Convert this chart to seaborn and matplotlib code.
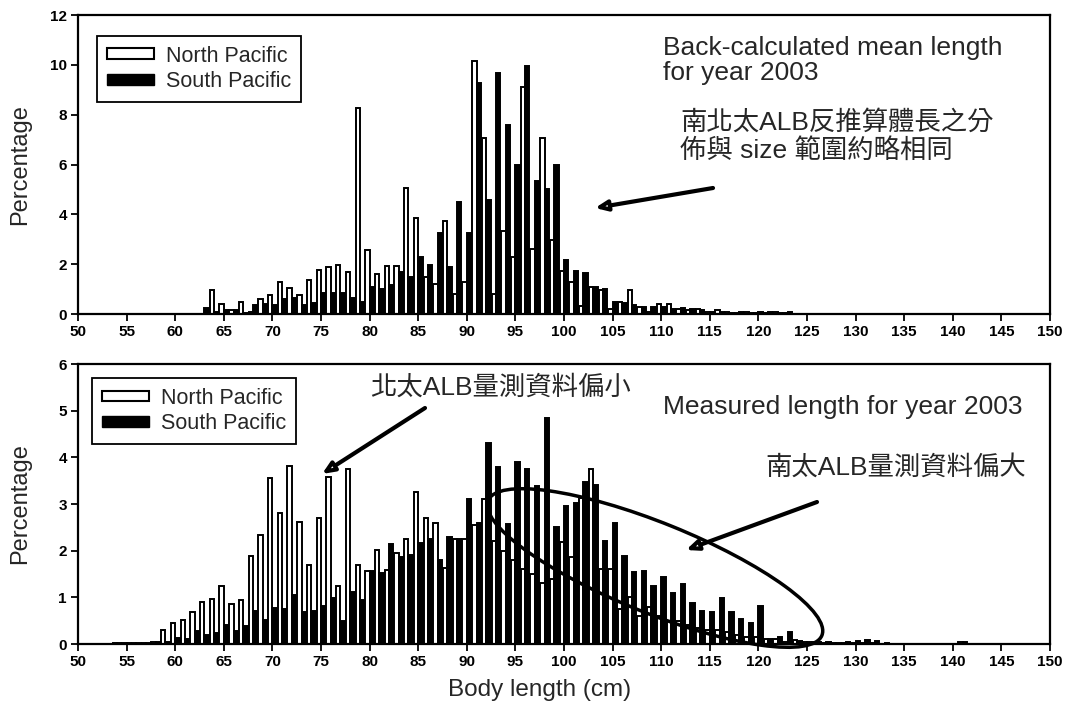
import numpy as np
import pandas as pd
import matplotlib
matplotlib.use('Agg')
import matplotlib.pyplot as plt
import seaborn as sns
from matplotlib.patches import Patch, Ellipse

# ---- data: percentage by body length (cm) ----
top_len = list(range(62, 125))
top_np = [0, 0, 0.95, 0.4, 0.15, 0.5, 0.1, 0.6, 0.75, 1.3,
          1.05, 0.75, 1.35, 1.75, 1.9, 1.95, 1.7, 8.25, 2.55, 1.6,
          1.93, 1.93, 5.07, 3.84, 1.47, 1.2, 3.75, 0.8, 1.27, 10.16,
          7.07, 0.8, 3.32, 2.27, 9.1, 2.6, 7.07, 2.96, 1.73, 1.27,
          0.33, 1.07, 0.96, 0.2, 0.5, 0.95, 0.3, 0.1, 0.4, 0.4,
          0.2, 0.15, 0.2, 0.1, 0.15, 0.1, 0.05, 0.1, 0.05, 0.05,
          0.1, 0.05, 0]
top_sp = [0, 0.25, 0.1, 0.15, 0.15, 0.05, 0.35, 0.4, 0.35, 0.6,
          0.65, 0.35, 0.45, 0.85, 0.85, 0.85, 0.65, 0.5, 1.1, 1.0,
          1.16, 1.67, 1.49, 2.3, 1.96, 3.27, 1.87, 4.49, 3.27, 9.27,
          4.59, 9.67, 7.6, 5.97, 9.97, 5.33, 5.03, 5.97, 2.17, 1.71,
          1.64, 1.07, 1.0, 0.5, 0.45, 0.35, 0.3, 0.3, 0.3, 0.2,
          0.25, 0.2, 0.15, 0.1, 0.1, 0.05, 0.1, 0.05, 0.1, 0.1,
          0.05, 0.1, 0]

bot_len = list(range(54, 142))
bot_np = [0.03, 0.02, 0.03, 0.02, 0.05, 0.31, 0.44, 0.51, 0.68, 0.9,
          0.96, 1.25, 0.86, 0.94, 1.88, 2.34, 3.56, 2.81, 3.81, 2.61,
          1.7, 2.7, 3.58, 1.25, 3.76, 1.7, 1.57, 2.01, 1.59, 1.94,
          2.24, 3.26, 2.71, 2.59, 1.62, 2.26, 2.26, 2.55, 3.1, 2.2,
          2.0, 1.8, 1.6, 1.5, 1.3, 1.4, 2.19, 1.87, 3.12, 3.74,
          1.6, 1.6, 0.75, 1.0, 0.6, 0.8, 0.6, 0.5, 0.5, 0.4,
          0.35, 0.3, 0.3, 0.25, 0.2, 0.15, 0.15, 0.1, 0.1, 0.05,
          0.08, 0.05, 0.05, 0.03, 0.03, 0.03, 0.02, 0.03, 0.02, 0,
          0, 0, 0, 0, 0, 0, 0, 0.05]
bot_sp = [0.03, 0.03, 0.03, 0.03, 0.05, 0.05, 0.13, 0.1, 0.27, 0.19,
          0.24, 0.41, 0.27, 0.38, 0.7, 0.52, 0.77, 0.75, 1.04, 0.68,
          0.7, 0.81, 0.98, 0.5, 1.12, 0.94, 1.57, 1.53, 2.14, 1.87,
          1.91, 2.16, 2.26, 1.8, 2.3, 2.26, 3.1, 2.6, 4.3, 3.8,
          2.57, 3.91, 3.74, 3.39, 4.84, 2.51, 2.96, 3.03, 3.48, 3.41,
          2.2, 2.6, 1.89, 1.54, 1.57, 1.25, 1.43, 1.09, 1.29, 0.87,
          0.71, 0.68, 0.98, 0.68, 0.54, 0.45, 0.82, 0.1, 0.14, 0.25,
          0.06, 0.05, 0.05, 0.04, 0.03, 0.04, 0.06, 0.08, 0.06, 0.03,
          0, 0, 0, 0, 0, 0, 0, 0.05]

regions = ['North Pacific', 'South Pacific']
colors = {'North Pacific': 'white', 'South Pacific': 'black'}

W, H = 1078, 719


def to_df(lengths, north, south):
    return pd.DataFrame({
        'length': lengths + lengths,
        'pct': north + south,
        'region': [regions[0]] * len(lengths) + [regions[1]] * len(lengths),
    })


def px(x, y):
    # image pixel (from top-left) -> figure fraction
    return x / W, 1 - y / H


sns.set_style('white')
plt.rcParams['font.family'] = ['Liberation Sans', 'Noto Sans CJK TC', 'DejaVu Sans']

fig = plt.figure(figsize=(W / 100, H / 100), dpi=100)
ax1 = fig.add_axes([78 / W, 1 - 314 / H, 972 / W, 299 / H])
ax2 = fig.add_axes([78 / W, 1 - 644 / H, 972 / W, 280 / H])

panels = [
    (ax1, to_df(top_len, top_np, top_sp), 12, 2, (0.0195, 0.93)),
    (ax2, to_df(bot_len, bot_np, bot_sp), 6, 1, (0.0144, 0.95)),
]

for ax, df, ymax, ystep, leg_pos in panels:
    sns.barplot(data=df, x='length', y='pct', hue='region', hue_order=regions,
                palette=colors, native_scale=True, errorbar=None, saturation=1,
                edgecolor='black', linewidth=1.4, width=0.9, legend=False, ax=ax)
    ax.set_xlim(50, 150)
    ax.set_ylim(0, ymax)
    ax.set_xticks(range(50, 151, 5))
    ax.set_yticks(np.arange(0, ymax + 0.1, ystep))
    ax.set_xticklabels([str(v) for v in range(50, 151, 5)], fontweight='bold')
    ax.set_yticklabels([str(int(v)) for v in np.arange(0, ymax + 0.1, ystep)],
                       fontweight='bold')
    ax.tick_params(axis='both', direction='out', length=5, width=1.3,
                   labelsize=11, colors='black', bottom=True, left=True, pad=3)
    for sp in ax.spines.values():
        sp.set_visible(True)
        sp.set_color('black')
        sp.set_linewidth(1.6)
    ax.set_xlabel('')
    ax.set_ylabel('Percentage', fontsize=17)
    ax.yaxis.set_label_coords(-0.048, 0.5)
    handles = [Patch(facecolor='white', edgecolor='black', linewidth=1.5),
               Patch(facecolor='black', edgecolor='black')]
    leg = ax.legend(handles, regions, loc='upper left', bbox_to_anchor=leg_pos,
                    borderaxespad=0, fontsize=15.5, frameon=True, fancybox=False,
                    handlelength=2.2, handleheight=0.4, handletextpad=0.55,
                    labelspacing=0.2, borderpad=0.45)
    leg.get_frame().set_edgecolor('black')
    leg.get_frame().set_linewidth(1.3)
    leg.get_frame().set_alpha(1)

fig.text(*px(540, 690), 'Body length (cm)', fontsize=17.5, ha='center', va='center')

# annotations, top panel
fig.text(*px(663, 36), 'Back-calculated mean length\nfor year 2003', fontsize=19,
         ha='left', va='top', linespacing=1.05)
fig.text(*px(680, 110), '南北太ALB反推算體長之分\n佈與 size 範圍約略相同', fontsize=19,
         ha='left', va='top', linespacing=1.15)

# annotations, bottom panel
fig.text(*px(370, 387), '北太ALB量測資料偏小', fontsize=19, ha='left', va='center')
fig.text(*px(663, 407), 'Measured length for year 2003', fontsize=19,
         ha='left', va='center')
fig.text(*px(765, 467), '南太ALB量測資料偏大', fontsize=19, ha='left', va='center')

arrows = [((713, 188), (595, 208)), ((425, 408), (322, 474)), ((817, 502), (686, 550))]
for (tx, ty), (hx, hy) in arrows:
    fig.add_artist(plt.Annotation('', xy=(hx, H - hy), xytext=(tx, H - ty),
                                  xycoords='figure pixels', textcoords='figure pixels',
                                  arrowprops=dict(arrowstyle='-|>,head_length=0.7,head_width=0.3',
                                                  fc='white', ec='black', lw=3,
                                                  shrinkA=0, shrinkB=0)))

fig.add_artist(Ellipse((655 / 100, (H - 568) / 100), 3.6, 0.9, angle=-22,
                       transform=fig.dpi_scale_trans, fill=False,
                       edgecolor='black', linewidth=2.5))

fig.savefig('out.png', dpi=100)
